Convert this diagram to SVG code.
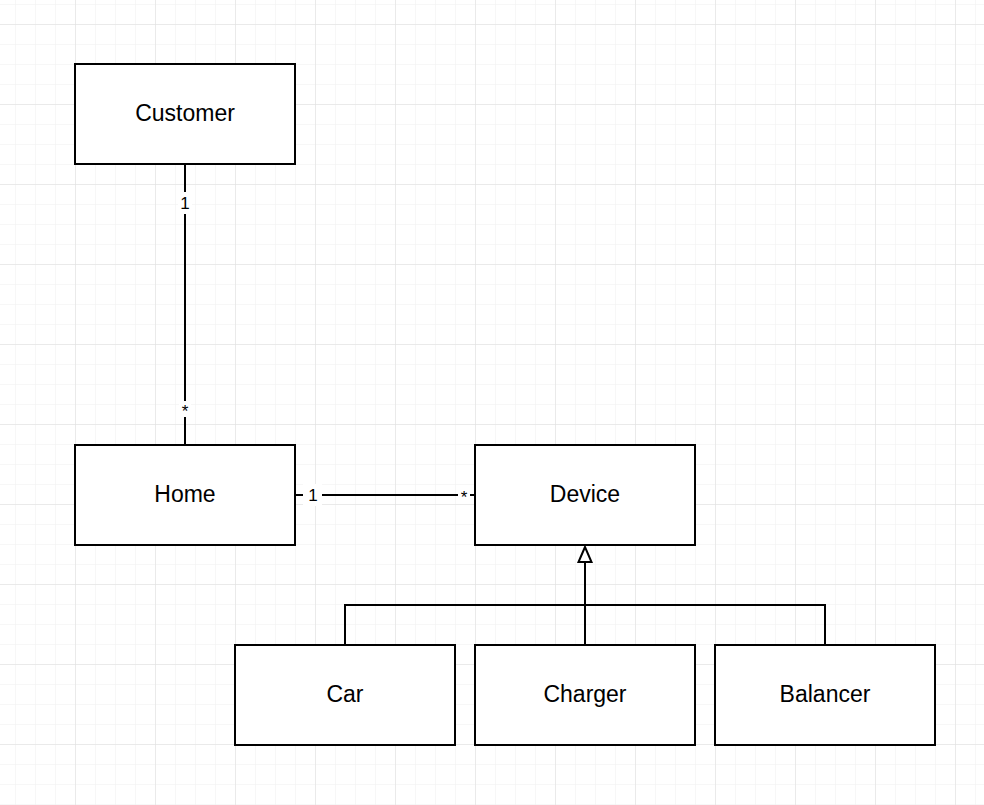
<svg xmlns="http://www.w3.org/2000/svg" width="984" height="805" viewBox="0 0 984 805">
<defs>
<pattern id="minor" x="15" y="4" width="20" height="20" patternUnits="userSpaceOnUse">
<path d="M0 0H20M0 0V20" fill="none" stroke="#f0f0f0" stroke-width="1"/>
</pattern>
<pattern id="major" x="75" y="24" width="80" height="80" patternUnits="userSpaceOnUse">
<path d="M0 0H80M0 0V80" fill="none" stroke="#dedede" stroke-width="1"/>
</pattern>
</defs>
<style>
.box{fill:#fff;stroke:#000;stroke-width:2}
.lbl{font-family:"Liberation Sans",Arial,sans-serif;font-size:23px;fill:#000;text-anchor:middle;dominant-baseline:central}
.ml{font-family:"Liberation Sans",Arial,sans-serif;font-size:17px;fill:#000;text-anchor:middle;dominant-baseline:central}
.edge{fill:none;stroke:#000;stroke-width:2}
.tri{fill:#fff;stroke:#000;stroke-width:2;stroke-linejoin:miter}
.bg{fill:#fff}
</style>
<rect width="984" height="805" fill="#fff"/>
<rect width="984" height="805" fill="url(#minor)"/>
<rect width="984" height="805" fill="url(#major)"/>
<g id="connectors">
<path class="edge" d="M185 164V445"/>
<rect class="bg" x="178" y="192" width="14" height="22"/>
<text class="ml" x="185" y="203">1</text>
<rect class="bg" x="179" y="401" width="12" height="16"/>
<text class="ml" x="185" y="411">*</text>
<path class="edge" d="M295 495H475"/>
<rect class="bg" x="303" y="484" width="19" height="22"/>
<text class="ml" x="313" y="495">1</text>
<rect class="bg" x="458" y="486" width="12" height="14"/>
<text class="ml" x="464" y="497">*</text>
<path class="edge" d="M585 645V562"/>
<polygon class="tri" points="585,547 578.5,562 591.5,562"/>
<path class="edge" d="M345 645V605H825V645"/>
</g>
<g id="customer"><rect class="box" x="75" y="64" width="220" height="100"/><text class="lbl" x="185" y="113">Customer</text></g>
<g id="home"><rect class="box" x="75" y="445" width="220" height="100"/><text class="lbl" x="185" y="494">Home</text></g>
<g id="device"><rect class="box" x="475" y="445" width="220" height="100"/><text class="lbl" x="585" y="494">Device</text></g>
<g id="car"><rect class="box" x="235" y="645" width="220" height="100"/><text class="lbl" x="345" y="694">Car</text></g>
<g id="charger"><rect class="box" x="475" y="645" width="220" height="100"/><text class="lbl" x="585" y="694">Charger</text></g>
<g id="balancer"><rect class="box" x="715" y="645" width="220" height="100"/><text class="lbl" x="825" y="694">Balancer</text></g>
</svg>
